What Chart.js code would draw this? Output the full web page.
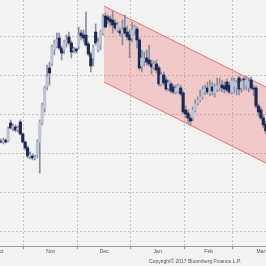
<!DOCTYPE html>
<html>
<head>
<meta charset="utf-8">
<script src="https://cdn.jsdelivr.net/npm/chart.js@4.4.1/dist/chart.umd.min.js"></script>
<style>
html, body { margin: 0; padding: 0; background: #f2f2f2; }
#wrap { position: relative; width: 266px; height: 266px; }
#note { position: absolute; left: 149px; top: 258px; font: 5px "Liberation Sans", Arial, sans-serif; color: #555; white-space: nowrap; }
</style>
</head>
<body>
<div id="wrap">
    <canvas id="chart"></canvas>
    <div id="note">Copyright© 2017 Bloomberg Finance L.P.</div>
</div>
<script>
// daily candles, one per trading day (mid Oct 2016 - mid Mar 2017)
var opens = [105.28, 105.17, 105.38, 105.28, 107.13, 106.62, 106.72, 106.41, 107.23, 106.00,
    105.17, 104.56, 103.73, 103.73, 103.53, 103.83, 105.17, 107.13, 108.68, 110.84,
    112.80, 113.31, 114.65, 115.06, 115.89, 114.86, 114.65, 115.37, 115.99, 115.37,
    114.65, 114.75, 115.06, 116.40, 116.19, 116.19, 115.27, 114.24, 113.83, 116.50,
    114.65, 115.16, 116.40, 118.15, 118.05, 117.84, 117.74, 117.43, 116.71, 116.61,
    116.40, 116.92, 116.50, 116.19, 115.89, 116.61, 116.81, 115.68, 113.00, 113.62,
    113.83, 113.62, 113.21, 112.90, 113.21, 112.80, 111.15, 112.08, 111.56, 110.74,
    111.15, 110.84, 110.32, 110.43, 110.74, 110.22, 108.47, 108.16, 107.65, 107.65,
    108.47, 109.19, 109.50, 109.81, 110.32, 110.74, 110.22, 110.84, 110.22, 110.63,
    110.74, 111.04, 110.94, 111.35, 111.04, 110.32, 110.94, 110.74, 111.77, 110.74,
    111.66, 111.04, 110.74, 111.56, 110.74, 110.74, 108.88, 108.47, 107.65, 107.03];
var highs = [105.48, 105.59, 105.48, 106.72, 107.44, 107.03, 106.93, 106.82, 107.44, 106.10,
    105.28, 104.76, 104.14, 103.94, 103.83, 105.38, 107.44, 109.19, 110.94, 113.10,
    113.41, 115.16, 115.68, 116.40, 116.40, 115.06, 115.68, 116.19, 116.50, 115.58,
    114.96, 114.86, 117.02, 116.71, 116.71, 118.56, 115.47, 114.44, 115.16, 117.33,
    115.89, 116.71, 118.36, 118.46, 118.26, 118.15, 118.67, 117.74, 117.53, 116.92,
    117.74, 118.26, 117.12, 116.71, 117.53, 117.23, 117.02, 115.89, 114.65, 114.44,
    114.65, 115.16, 113.62, 113.52, 113.62, 113.00, 112.38, 112.38, 111.87, 111.56,
    111.35, 111.04, 111.04, 111.15, 111.04, 110.43, 108.88, 108.47, 107.96, 108.78,
    109.50, 109.81, 110.53, 110.94, 111.04, 111.35, 111.56, 111.35, 111.15, 111.77,
    111.77, 111.56, 111.35, 111.66, 111.35, 111.77, 111.77, 111.56, 111.97, 111.66,
    111.87, 111.97, 111.77, 111.87, 111.04, 110.94, 109.09, 108.78, 107.96, 107.34];
var lows = [105.07, 104.97, 105.07, 105.17, 106.51, 106.31, 106.20, 106.20, 105.90, 105.07,
    104.35, 103.53, 103.42, 103.32, 103.32, 103.53, 101.98, 106.93, 108.26, 110.53,
    111.04, 113.00, 114.13, 114.86, 114.65, 113.62, 114.24, 114.96, 115.16, 113.83,
    114.34, 114.34, 114.75, 115.68, 115.47, 115.06, 114.03, 112.38, 113.00, 115.16,
    114.44, 114.65, 116.19, 116.92, 117.33, 117.12, 116.40, 116.71, 116.50, 116.09,
    115.16, 116.19, 115.68, 113.83, 115.47, 116.19, 114.86, 112.59, 112.38, 113.00,
    113.10, 113.00, 112.18, 112.59, 112.28, 110.94, 110.94, 111.04, 110.43, 110.43,
    110.22, 110.12, 110.12, 110.22, 109.91, 108.06, 107.65, 107.13, 106.93, 107.34,
    108.26, 108.98, 109.29, 109.60, 110.02, 110.12, 109.91, 110.02, 109.81, 110.32,
    110.43, 110.32, 110.22, 110.32, 110.12, 110.12, 110.22, 110.02, 110.02, 110.32,
    110.53, 110.53, 110.32, 110.53, 109.91, 108.68, 107.85, 107.44, 106.62, 106.00];
var closes = [105.17, 105.38, 105.17, 106.51, 106.62, 106.82, 106.41, 106.62, 106.00, 105.17,
    104.56, 103.73, 103.83, 103.53, 103.63, 105.17, 107.23, 108.98, 110.74, 111.87,
    112.28, 114.96, 115.37, 115.68, 114.86, 114.34, 115.47, 115.68, 115.37, 114.44,
    114.75, 114.55, 116.30, 116.09, 115.89, 115.16, 114.24, 113.00, 114.86, 115.37,
    115.47, 116.50, 118.05, 117.02, 117.74, 117.53, 117.23, 116.92, 117.23, 116.40,
    116.71, 116.40, 115.99, 115.68, 116.71, 116.92, 115.68, 112.80, 113.83, 113.72,
    113.41, 113.21, 112.90, 113.21, 112.59, 111.15, 112.08, 111.25, 110.63, 111.25,
    110.43, 110.32, 110.74, 110.94, 110.12, 108.26, 108.06, 107.65, 107.34, 108.47,
    109.09, 109.50, 109.81, 110.53, 110.63, 110.32, 110.84, 110.43, 110.84, 110.94,
    111.04, 110.74, 110.63, 110.53, 110.32, 111.46, 111.35, 111.25, 110.63, 111.35,
    111.56, 111.56, 111.35, 110.74, 110.63, 108.88, 108.26, 107.65, 106.93, 106.31];

// downtrend channel (trading day index, price)
var channelX = [42.4, 110];
var channelTop = [119.18, 110.72];
var channelBottom = [111.35, 102.89];

// month boundaries / label positions in trading-day index
var monthBounds = [9.5, 31.5, 53.5, 75.5, 95.5];
var monthMids = [-0.6, 20.5, 42.5, 64.5, 85.5, 107];
var monthLabels = ['Oct', 'Nov', 'Dec', 'Jan', 'Feb', 'Mar'];
var yTicks = [96, 100, 104, 108, 112, 116];

var bodies = opens.map(function (o, i) { return { x: i, y: [o, closes[i]] }; });
var wicks = lows.map(function (l, i) { return { x: i, y: [l, highs[i]] }; });
var topLine = channelX.map(function (x, i) { return { x: x, y: channelTop[i] }; });
var bottomLine = channelX.map(function (x, i) { return { x: x, y: channelBottom[i] }; });

function isBound(tick) {
    return tick && monthBounds.indexOf(tick.value) > -1;
}

var ctx = document.getElementById('chart').getContext('2d');

var chart = new Chart(ctx, {
    type: 'bar',
    data: {
        datasets: [{
            type: 'line',
            data: topLine,
            borderColor: '#e5736f',
            borderWidth: 1,
            pointRadius: 0,
            fill: false,
            order: 3
        }, {
            type: 'line',
            data: bottomLine,
            borderColor: '#e5736f',
            borderWidth: 1,
            pointRadius: 0,
            fill: '-1',
            backgroundColor: 'rgba(236,112,112,0.32)',
            order: 3
        }, {
            data: wicks,
            backgroundColor: '#878ea0',
            barThickness: 1,
            grouped: false,
            order: 2
        }, {
            data: bodies,
            backgroundColor: function (c) {
                var i = c.dataIndex;
                return closes[i] >= opens[i] ? '#bcc3d2' : '#1c2955';
            },
            barThickness: 2.5,
            grouped: false,
            order: 1
        }]
    },
    options: {
        animation: false,
        responsive: true,
        maintainAspectRatio: false,
        layout: { padding: 0, autoPadding: false },
        plugins: { legend: { display: false }, tooltip: { enabled: false } },
        scales: {
            x: {
                type: 'linear',
                min: -0.37,
                max: 109.1,
                offset: false,
                afterBuildTicks: function (s) {
                    s.ticks = monthBounds.concat(monthMids).sort(function (a, b) { return a - b; })
                        .map(function (v) { return { value: v }; });
                },
                afterFit: function (s) {
                    s.height = 20;
                    s.paddingLeft = 0;
                    s.paddingRight = 0;
                },
                grid: {
                    offset: false,
                    color: function (c) { return isBound(c.tick) ? '#c2c2c2' : 'rgba(0,0,0,0)'; },
                    tickColor: function (c) { return isBound(c.tick) ? '#999999' : 'rgba(0,0,0,0)'; },
                    tickLength: 3
                },
                border: { color: '#9a9a9a', dash: [2, 2] },
                ticks: {
                    autoSkip: false,
                    maxRotation: 0,
                    padding: 0,
                    color: '#555',
                    font: { size: 5, family: 'Liberation Sans' },
                    callback: function (v) {
                        var k = monthMids.indexOf(v);
                        return k > -1 ? monthLabels[k] : '';
                    }
                }
            },
            y: {
                min: 94.46,
                max: 119.8,
                afterBuildTicks: function (s) {
                    s.ticks = yTicks.map(function (v) { return { value: v }; });
                },
                afterFit: function (s) { s.width = 0; },
                ticks: { display: false },
                grid: { color: '#c2c2c2', drawTicks: false },
                border: { display: false, dash: [2, 2] }
            }
        }
    }
});
</script>
</body>
</html>
